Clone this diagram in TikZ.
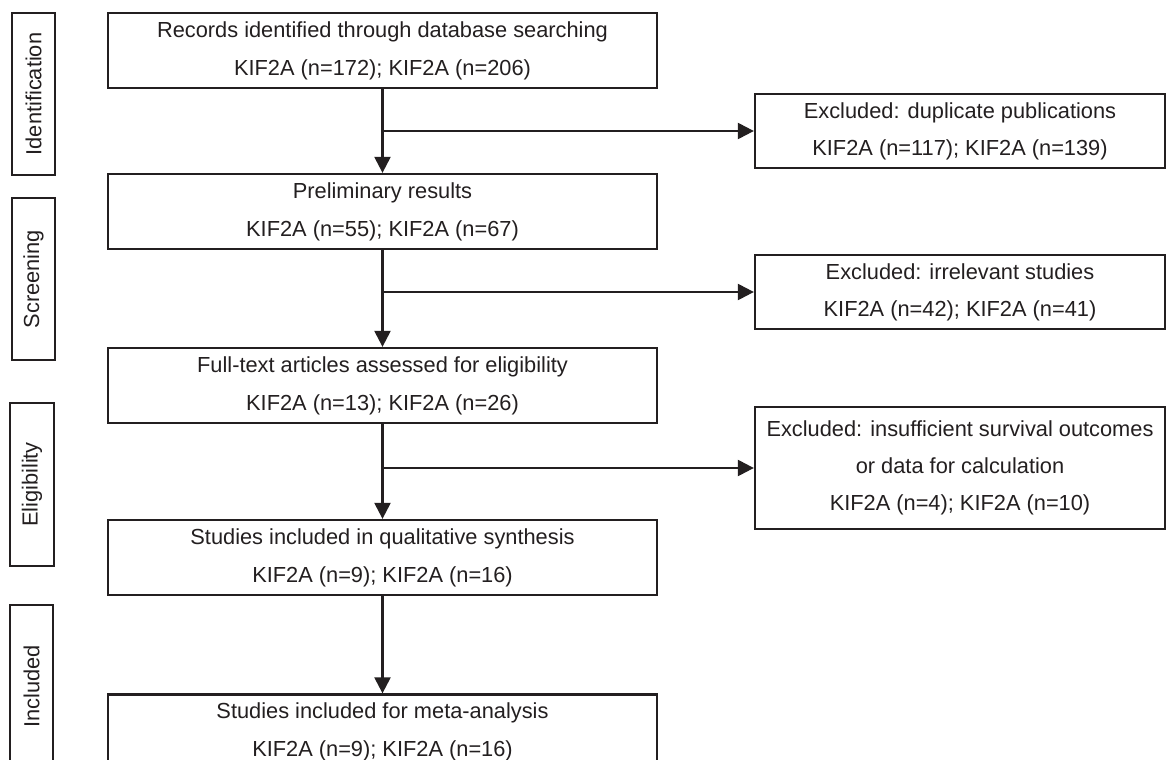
\documentclass[tikz,border=0pt]{standalone}
\usepackage{fontspec}
\setmainfont{Liberation Sans}
\usetikzlibrary{arrows.meta}
\definecolor{ink}{HTML}{231F20}
\tikzset{
  mainbox/.style={draw=ink, line width=2.3pt, rectangle, inner sep=0pt,
    minimum width=549pt, minimum height=75pt, align=center, text=ink,
    font=\fontsize{21.8}{38}\selectfont},
  sidebox/.style={draw=ink, line width=2.3pt, rectangle, inner sep=0pt,
    minimum width=410pt, align=center, text=ink,
    font=\fontsize{21.8}{37}\selectfont},
  stagebox/.style={draw=ink, line width=2.3pt, rectangle, inner sep=0pt,
    minimum width=162pt, minimum height=43pt, rotate=90, text=ink,
    font=\fontsize{21.8}{25}\selectfont},
  arr/.style={draw=ink, line width=2.3pt, -{Triangle[length=16pt,width=16pt]}}
}
\begin{document}
\begin{tikzpicture}[x=1pt,y=-1pt]
\useasboundingbox (0,0) rectangle (1167,760);
\clip (0,0) rectangle (1167,760);
\fill[white] (0,0) rectangle (1167,760);
% stage labels
\node[stagebox] (sId) at (33.5,94) {Identification};
\node[stagebox] (sSc) at (33.5,279) {Screening};
\node[stagebox, minimum width=163pt, minimum height=44pt] (sEl) at (32,484.5) {Eligibility};
\node[stagebox, minimum width=163pt] (sIn) at (31.5,686.5) {Included};
% main boxes
\node[mainbox] (b1) at (382.5,50.5) {Records identified through database searching\\KIF2A (n=172); KIF2A (n=206)};
\node[mainbox] (b2) at (382.5,211.5) {Preliminary results\\KIF2A (n=55); KIF2A (n=67)};
\node[mainbox] (b3) at (382.5,385.5) {Full-text articles assessed for eligibility\\KIF2A (n=13); KIF2A (n=26)};
\node[mainbox] (b4) at (382.5,557.5) {Studies included in qualitative synthesis\\KIF2A (n=9); KIF2A (n=16)};
\node[mainbox] (b5) at (382.5,732) {Studies included for meta-analysis\\KIF2A (n=9); KIF2A (n=16)};
% exclusion boxes
\node[sidebox, minimum height=74pt] (eA) at (960,131) {Excluded: duplicate publications\\KIF2A (n=117); KIF2A (n=139)};
\node[sidebox, minimum height=74pt] (eB) at (960,292) {Excluded: irrelevant studies\\KIF2A (n=42); KIF2A (n=41)};
\node[sidebox, minimum height=122pt] (eC) at (960,468) {Excluded: insufficient survival outcomes\\or data for calculation\\KIF2A (n=4); KIF2A (n=10)};
% connectors
\draw[arr] (b1.south) -- (b2.north);
\draw[arr] (b2.south) -- (b3.north);
\draw[arr] (b3.south) -- (b4.north);
\draw[arr] (b4.south) -- (b5.north);
\coordinate (jA) at (b1.south |- eA.west);
\coordinate (jB) at (b2.south |- eB.west);
\coordinate (jC) at (b3.south |- eC.west);
\draw[arr] (jA) -- (eA.west);
\draw[arr] (jB) -- (eB.west);
\draw[arr] (jC) -- (eC.west);
\end{tikzpicture}
\end{document}
